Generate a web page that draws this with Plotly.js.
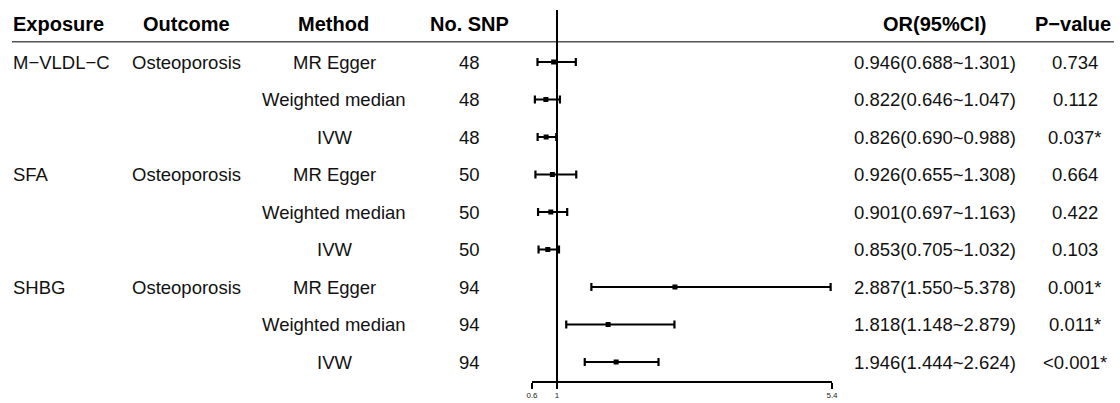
<!DOCTYPE html>
<html>
<head>
<meta charset="utf-8">
<script src="https://cdn.plot.ly/plotly-3.0.1.min.js"></script>
<style>html,body{margin:0;padding:0;background:#fff;}#chart{width:1120px;height:403px;}</style>
</head>
<body>
<div id="chart"></div>
<script>
// ---- data ----
const exposure = ["M\u2212VLDL\u2212C", "", "", "SFA", "", "", "SHBG", "", ""];
const outcome  = ["Osteoporosis", "", "", "Osteoporosis", "", "", "Osteoporosis", "", ""];
const method   = ["MR Egger", "Weighted median", "IVW", "MR Egger", "Weighted median", "IVW", "MR Egger", "Weighted median", "IVW"];
const nSNP     = ["48", "48", "48", "50", "50", "50", "94", "94", "94"];
const orVal    = [0.946, 0.822, 0.826, 0.926, 0.901, 0.853, 2.887, 1.818, 1.946];
const ciLow    = [0.688, 0.646, 0.690, 0.655, 0.697, 0.705, 1.550, 1.148, 1.444];
const ciHigh   = [1.301, 1.047, 0.988, 1.308, 1.163, 1.032, 5.378, 2.879, 2.624];
const orText   = ["0.946(0.688~1.301)", "0.822(0.646~1.047)", "0.826(0.690~0.988)",
                  "0.926(0.655~1.308)", "0.901(0.697~1.163)", "0.853(0.705~1.032)",
                  "2.887(1.550~5.378)", "1.818(1.148~2.879)", "1.946(1.444~2.624)"];
const pValue   = ["0.734", "0.112", "0.037*", "0.664", "0.422", "0.103", "0.001*", "0.011*", "<0.001*"];
const headers  = ["Exposure", "Outcome", "Method", "No. SNP", "OR(95%CI)", "P\u2212value"];
const tickVals = [0.6, 1, 5.4];
const tickText = ["0.6", "1", "5.4"];
const refValue = 1;

// ---- layout helpers ----
const W = 1120, H = 403;
const rowTop = 62, rowStep = 37.5;
const yOf = px => (px - rowTop) / rowStep;
const rows = method.map((_, i) => i);
const FONT = "Liberation Sans, Arial, Helvetica, sans-serif";

const cols = [
  {data: exposure, x: 11,    anchor: "left"},
  {data: outcome,  x: 186,   anchor: "center"},
  {data: method,   x: 334,   anchor: "center"},
  {data: nSNP,     x: 469,   anchor: "center"},
  {data: orText,   x: 935,   anchor: "center"},
  {data: pValue,   x: 1075,  anchor: "center"}
];
const headerX = [11, 186.5, 333, 469, 934, 1073];

const annotations = [];
cols.forEach((c, ci) => {
  annotations.push({
    xref: "paper", yref: "y", x: headerX[ci] / W, y: yOf(23.5),
    text: "<b>" + headers[ci] + "</b>", showarrow: false,
    xanchor: c.anchor, yanchor: "middle",
    font: {family: FONT, size: 20, color: "#000"}
  });
  c.data.forEach((t, i) => {
    if (!t) return;
    annotations.push({
      xref: "paper", yref: "y", x: c.x / W, y: rows[i],
      text: t, showarrow: false, xanchor: c.anchor, yanchor: "middle",
      font: {family: FONT, size: 18.5, color: "#111"}
    });
  });
});

const trace = {
  type: "scatter", mode: "markers",
  x: orVal, y: rows,
  marker: {symbol: "square", size: 5, color: "#000"},
  error_x: {
    type: "data", symmetric: false,
    array: orVal.map((v, i) => ciHigh[i] - v),
    arrayminus: orVal.map((v, i) => v - ciLow[i]),
    thickness: 2.2, width: 4, color: "#000"
  },
  hoverinfo: "skip", showlegend: false
};

const layout = {
  width: W, height: H,
  margin: {l: 0, r: 0, t: 0, b: 0, pad: 0},
  paper_bgcolor: "#fff", plot_bgcolor: "rgba(0,0,0,0)",
  showlegend: false,
  xaxis: {
    domain: [532 / W, 832 / W], range: [0.6, 5.4],
    anchor: "free", position: 1 - 381.5 / H,
    showline: true, linewidth: 2, linecolor: "#000",
    ticks: "outside", ticklen: 6, tickwidth: 2, tickcolor: "#000",
    tickvals: tickVals, ticktext: tickText,
    tickfont: {family: FONT, size: 8, color: "#222"},
    showgrid: false, zeroline: false, fixedrange: true
  },
  yaxis: {
    domain: [0, 1], range: [yOf(H), yOf(0)],
    visible: false, showgrid: false, zeroline: false, fixedrange: true
  },
  shapes: [
    {type: "line", xref: "paper", yref: "y", x0: 12 / W, x1: 1114 / W, y0: yOf(41.7), y1: yOf(41.7),
     line: {color: "#555", width: 1.5}},
    {type: "line", xref: "x", yref: "y", x0: refValue, x1: refValue, y0: yOf(10), y1: yOf(381.5),
     line: {color: "#000", width: 2}}
  ],
  annotations: annotations
};

Plotly.newPlot("chart", [trace], layout, {displayModeBar: false, staticPlot: true});
</script>
</body>
</html>
